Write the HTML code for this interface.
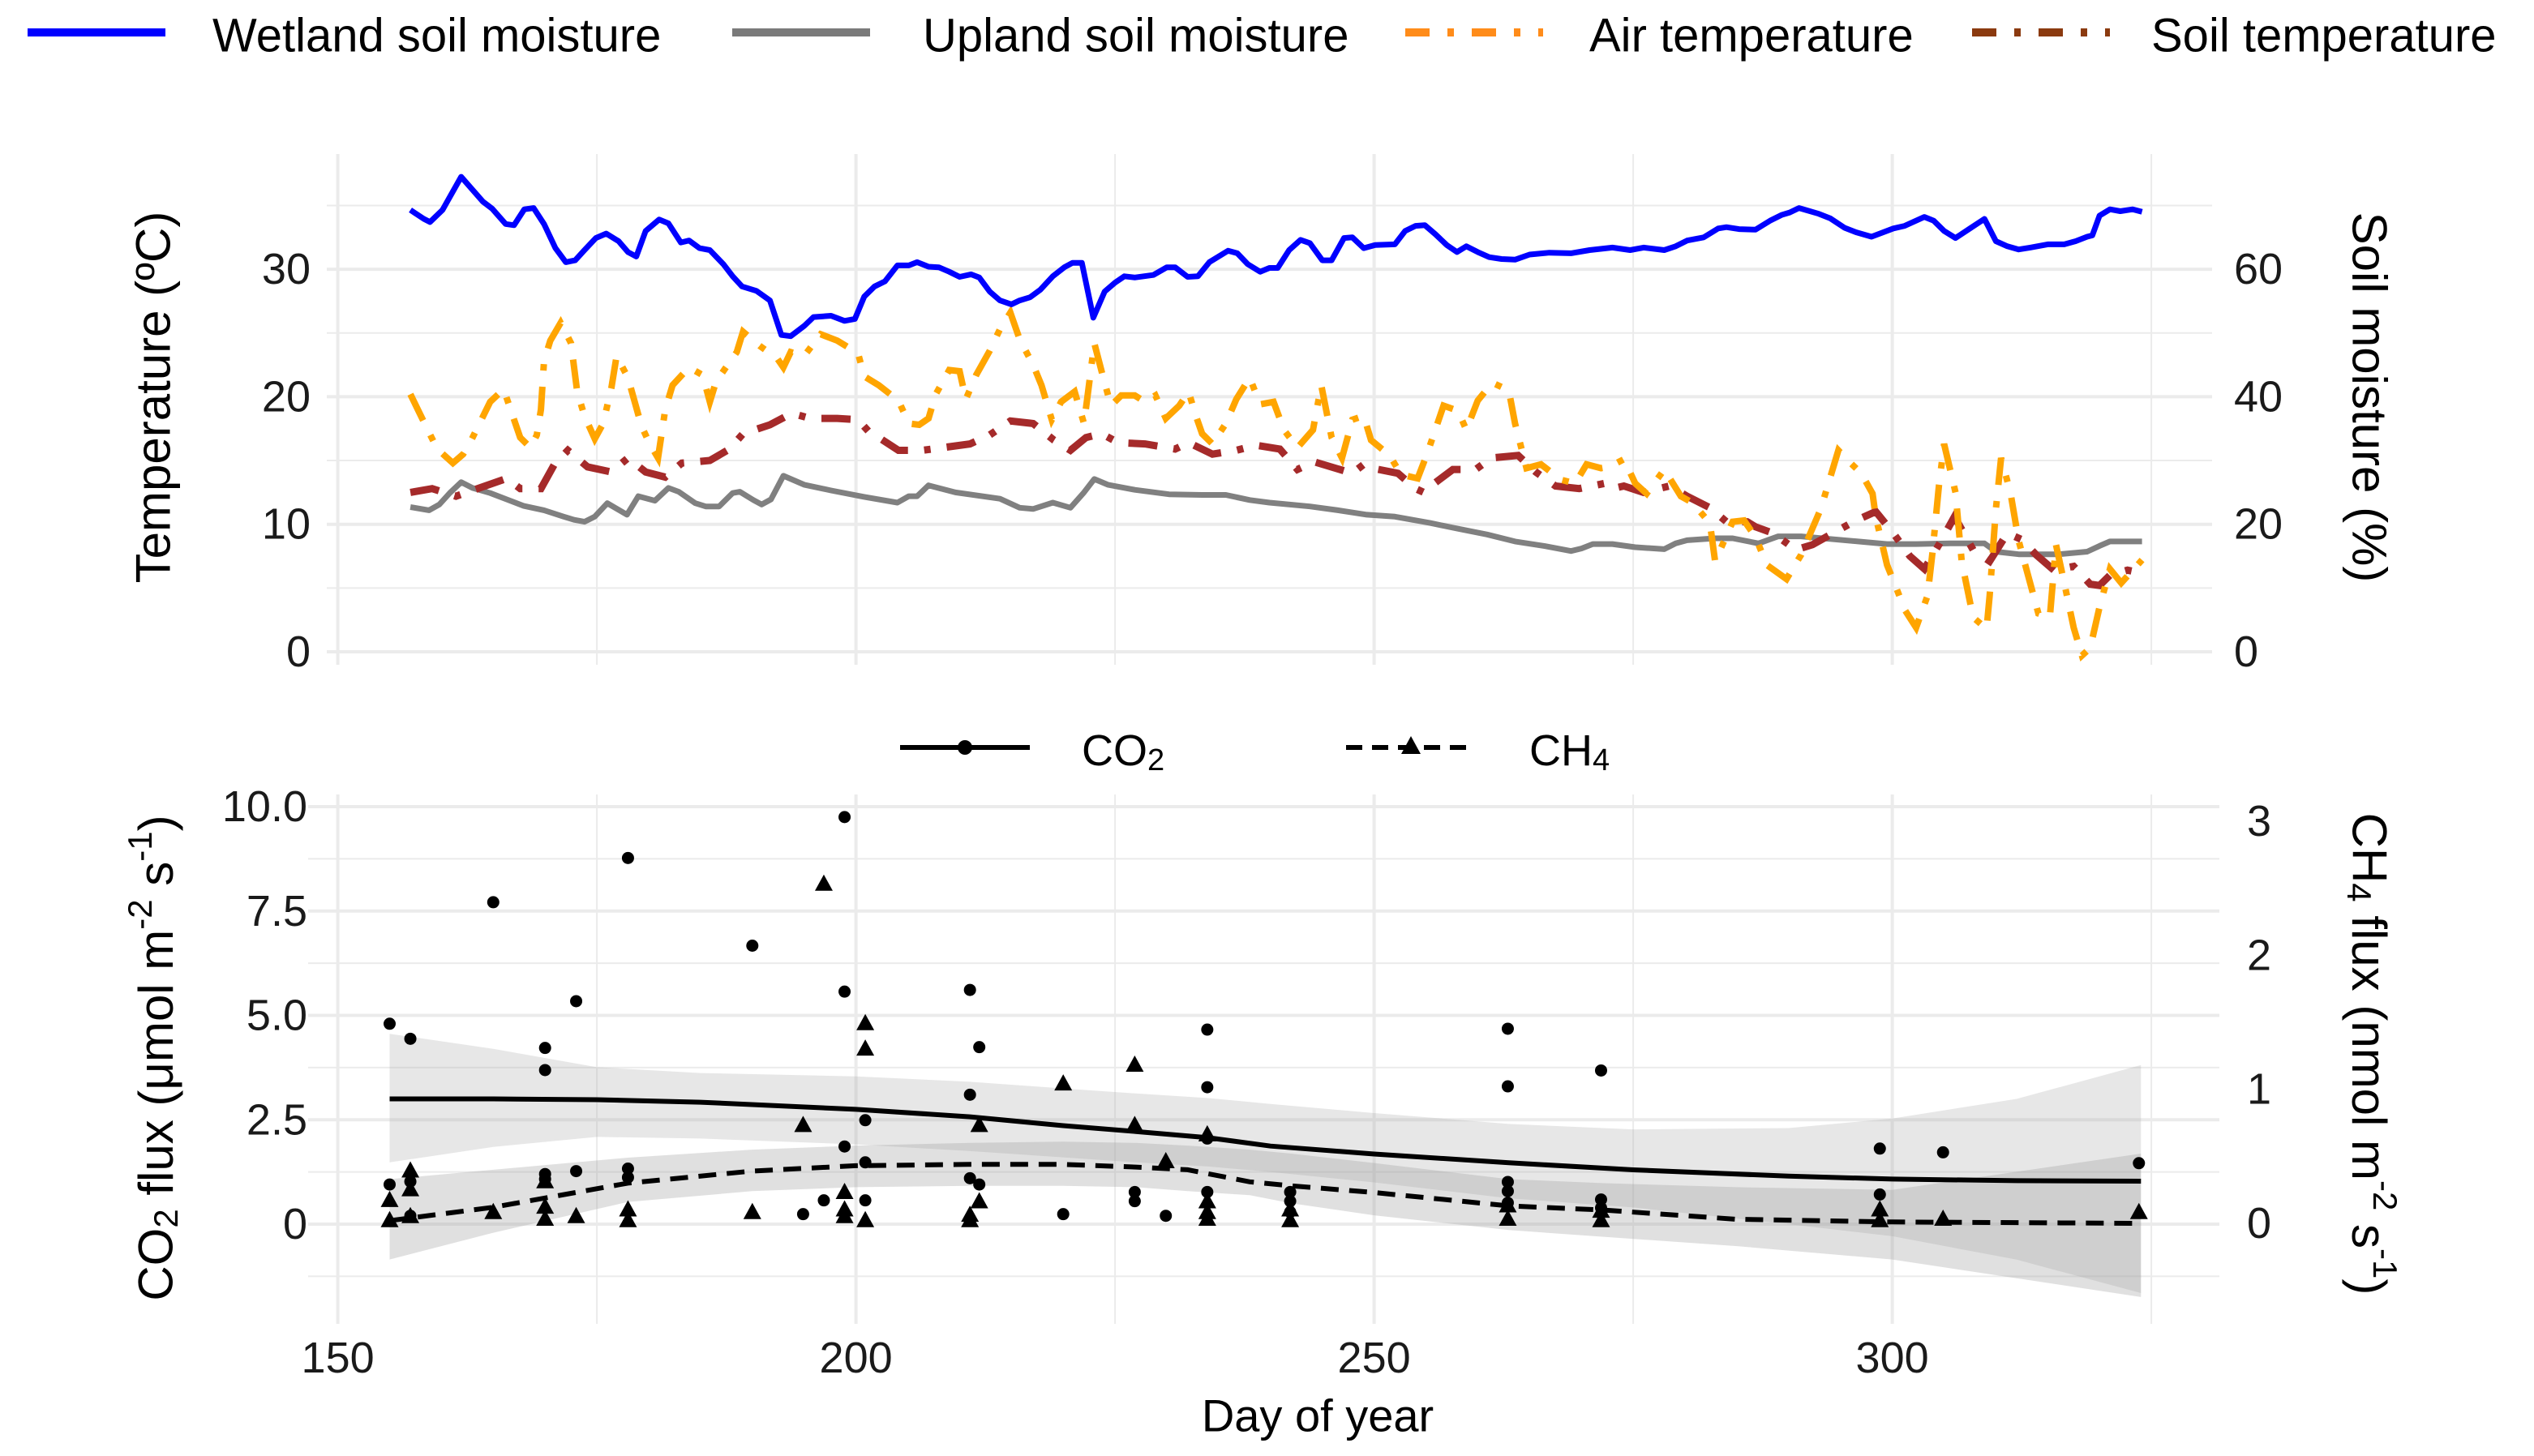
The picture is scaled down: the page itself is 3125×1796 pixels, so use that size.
<!DOCTYPE html>
<html><head><meta charset="utf-8">
<style>
html,body{margin:0;padding:0;background:#fff;}
svg{display:block;font-family:"Liberation Sans",Arial,sans-serif;}
</style></head>
<body>
<svg id="chart" width="3125" height="1796" viewBox="0 0 3125 1796" xmlns="http://www.w3.org/2000/svg">
  <g id="legend-top">
    <line x1="34" y1="40" x2="204" y2="40" stroke="#0000ff" stroke-width="10"/>
    <text x="262" y="44" font-size="58" dominant-baseline="central">Wetland soil moisture</text>
    <line x1="903" y1="40" x2="1073" y2="40" stroke="#7a7a7a" stroke-width="10"/>
    <text x="1138" y="44" font-size="58" dominant-baseline="central">Upland soil moisture</text>
    <line x1="1733" y1="40" x2="1903" y2="40" stroke="#ff8c1a" stroke-width="10" stroke-dasharray="30 22 8 22"/>
    <text x="1960" y="44" font-size="58" dominant-baseline="central">Air temperature</text>
    <line x1="2432" y1="40" x2="2602" y2="40" stroke="#8b3a0f" stroke-width="10" stroke-dasharray="30 22 8 22"/>
    <text x="2653" y="44" font-size="58" dominant-baseline="central">Soil temperature</text>
  </g>
  <g id="top-grid"></g>
  <g id="top-series"></g>
  <g id="top-axes"></g>
  <g id="bot-grid"></g>
  <g id="bot-series"></g>
  <g id="bot-axes"></g>
  <g id="legend-bottom">
    <line x1="1110" y1="922" x2="1270" y2="922" stroke="#000" stroke-width="6"/>
    <circle cx="1190" cy="922" r="9" fill="#000"/>
    <text x="1334" y="926" font-size="54" dominant-baseline="central">CO<tspan font-size="38" dy="12">2</tspan></text>
    <line x1="1660" y1="922" x2="1820" y2="922" stroke="#000" stroke-width="6" stroke-dasharray="20 12"/>
    <polygon points="1740,908 1752,930 1728,930" fill="#000"/>
    <text x="1886" y="926" font-size="54" dominant-baseline="central">CH<tspan font-size="38" dy="12">4</tspan></text>
  </g>
  <g id="titles">
    <text transform="translate(189,490) rotate(-90)" text-anchor="middle" dominant-baseline="central" font-size="60">Temperature (ºC)</text>
    <text transform="translate(2922,490) rotate(90)" text-anchor="middle" dominant-baseline="central" font-size="60">Soil moisture (%)</text>
    <text transform="translate(192,1305) rotate(-90)" text-anchor="middle" dominant-baseline="central" font-size="60">CO<tspan font-size="42" dy="12">2</tspan><tspan dy="-12"> flux (μmol m</tspan><tspan font-size="42" dy="-20">-2</tspan><tspan dy="20"> s</tspan><tspan font-size="42" dy="-20">-1</tspan><tspan dy="20">)</tspan></text>
    <text transform="translate(2922,1300) rotate(90)" text-anchor="middle" dominant-baseline="central" font-size="60">CH<tspan font-size="42" dy="12">4</tspan><tspan dy="-12"> flux (nmol m</tspan><tspan font-size="42" dy="-20">-2</tspan><tspan dy="20"> s</tspan><tspan font-size="42" dy="-20">-1</tspan><tspan dy="20">)</tspan></text>
    <text x="1625" y="1746" text-anchor="middle" dominant-baseline="central" font-size="56">Day of year</text>
  </g>
</svg>
<script>
// ---------- top panel data ----------
const wetDays = [157,158.3,158.9,160.1,161.9,164,164.9,166.2,167,168,168.9,169.9,171,172,172.9,173.8,174.9,175.9,177.1,178,178.8,179.7,181,181.9,183.1,183.9,184.9,185.9,187.2,188.1,189,190.4,191.7,192.8,193.7,195,195.9,197.6,198.9,199.9,200.8,201.8,202.8,204,205.1,205.9,207,208,209,210,211.1,211.9,212.9,213.9,215,215.8,216.8,217.8,219,220.1,220.9,221.8,222.9,224,225,225.9,226.9,228.7,230,230.8,232,233,234.1,235.9,236.8,237.8,239,239.9,240.7,241.8,242.9,243.8,245,245.9,
  247.1,247.9,249,250.1,252,253,254,254.9,255.9,257,258,258.9,260,261.1,262.3,263.6,265,266.9,269,270.8,273,274.7,276,278,279.1,280.2,281.8,283.2,284,285.2,286.8,288.2,289.3,290.1,291,292.9,294,295.4,296.5,298,300.1,301.2,303.1,304,305,306.1,307.5,308.9,310,311.1,312.2,313.3,315,316.6,317.7,318.8,319.3,320,321,322,323.2,324.1];
const wetMoist = [69.3,67.9,67.4,69.3,74.5,70.6,69.5,67.1,66.9,69.4,69.6,67.1,63.3,61.1,61.4,63,64.9,65.6,64.4,62.7,62,66,67.8,67.2,64.2,64.5,63.3,63,60.8,58.9,57.3,56.6,55.1,49.7,49.5,51.1,52.5,52.7,51.9,52.2,55.7,57.3,58.1,60.6,60.6,61.1,60.4,60.3,59.6,58.8,59.2,58.7,56.5,55.1,54.5,55.1,55.6,56.8,58.9,60.3,61,61,52.4,56.5,57.9,58.9,58.7,59.1,60.3,60.3,58.8,58.9,61.1,62.9,62.5,60.8,59.6,60.2,60.2,63,64.6,64.1,61.4,61.4,
  64.9,65,63.3,63.8,63.9,66,66.8,66.9,65.5,63.8,62.7,63.6,62.7,61.9,61.6,61.5,62.3,62.6,62.5,63,63.4,63,63.4,63,63.6,64.5,65,66.4,66.6,66.3,66.2,67.6,68.5,68.9,69.6,68.7,68,66.5,65.8,65.1,66.4,66.8,68.2,67.6,66,64.9,66.4,67.9,64.4,63.6,63.1,63.4,63.9,63.9,64.4,65.1,65.3,68.4,69.4,69.1,69.4,69];
const upDays = [157,158.8,159.8,160.8,161.9,163,164.7,166.3,167.9,169.9,171.8,172.8,173.8,174.8,176,177.9,179,180.6,181.9,182.9,184.5,185.5,186.8,188.1,188.8,190.1,190.9,191.8,193,195,197.6,200.8,204,205.1,205.9,207,209.6,213.9,215.8,217.1,219,220.7,222,223,224.3,226.9,230.2,233.4,235.7,238,239.9,243.8,246.5,
  249.3,252,255.4,258.1,260.9,263.6,266.4,269,270,271.1,273,275.2,278,279.1,280.2,282.9,284.6,287.1,289,291.2,294,296.7,299.5,302.3,305.6,308.9,310,312.2,316.1,318.8,320,321,324.1];
const upMoist = [22.7,22.2,23.1,24.9,26.6,25.7,24.9,23.9,22.9,22.2,21.2,20.7,20.4,21.2,23.3,21.5,24.4,23.7,25.7,25.1,23.3,22.8,22.8,24.9,25.1,23.8,23.1,23.9,27.6,26.2,25.3,24.3,23.4,24.4,24.4,26.1,25,24,22.6,22.4,23.4,22.6,25,27.1,26.2,25.4,24.7,24.6,24.6,23.8,23.4,22.8,22.2,
  21.5,21.2,20.2,19.3,18.4,17.3,16.6,15.8,16.2,16.9,16.9,16.4,16.1,17,17.5,17.8,17.8,17,18.1,18.1,17.7,17.3,16.9,16.9,17,17,15.7,15.3,15.3,15.7,16.6,17.3,17.3];
const airDays = [157,158.5,159.6,161.1,162.1,162.7,164.7,166,167.6,168.6,169.2,169.6,169.9,170.5,171.5,172.5,173.1,173.8,174.8,175.6,176.4,176.9,178,179.3,180.1,180.9,181.6,182.3,183.2,183.9,185.2,185.9,186.5,188.5,189.1,190.7,192.4,193,193.7,195,196.6,198.2,200.2,200.8,202.2,204.1,205.1,206.1,207,207.7,209,210,210.6,211.6,212.9,213.9,214.9,215.8,217.1,217.9,218.9,219.8,221.1,222,222.4,223,223.7,224.6,225.6,226.9,227.9,228.9,229.9,231.2,232.1,232.8,233.4,234.4,235.7,236.7,238,239,240.3,241.3,242.6,244.1,244.9,245.9,246.9,
  247.9,249,249.7,251.5,252.6,254.2,255.1,255.9,256.7,258.1,258.9,260,261.4,263,263.6,264.7,266.1,268,269.4,270.5,271.9,272.7,274.1,275.2,276.3,278,279.6,280.7,282.4,282.9,284.6,285.7,286.8,287.9,289.8,291.2,293.1,294.8,295.6,297,298.1,298.4,299.5,300.3,301.2,302.3,303.4,303.9,304.5,305,306.1,306.7,307.8,309.1,309.4,310,310.5,311.4,312.2,313.3,314.1,315.2,315.8,316.6,317.5,318.3,319.1,320,321,322.1,324.1];
const airTemp = [20.2,17.7,15.9,14.8,15.5,16.3,19.6,20.6,16.8,16,17,19,22.8,24.4,25.8,24.2,20.4,18.5,16.7,17.9,20.7,23.2,21.5,17.7,16.3,15.2,19,20.9,21.7,22.3,21.7,19.6,21.2,23.5,25.1,24,23,22.3,23.5,23.2,24.9,24.4,23.4,21.6,20.9,19.7,17.9,17.8,18.3,20.2,22.1,22,19.8,21.7,23.6,25.3,26.6,24.5,22.5,20.9,18.2,19.6,20.4,17.9,20.4,24.2,22,19.3,20.1,20.1,19.6,20.1,18.3,19.3,20.4,18.5,17.1,16.3,17.9,19.8,21.5,19.4,19.6,17.4,16,17.4,20.9,16.8,15.2,
  18.2,18.5,16.6,15.4,13.9,13.6,15.5,17.4,19.3,18.9,17.4,19.7,21.1,20.5,17.9,14.4,14.7,13.5,13.2,14.7,14.4,14.5,15.1,13.2,12.4,14.3,12.2,11.7,10.1,7.1,10.2,10.3,9,6.8,5.7,7.6,11.2,15.8,15.1,14,12.4,10.6,6.8,5.2,3.3,1.9,4.4,7.9,13,16.3,12.5,7.1,2.7,1.8,4.4,11.2,15.2,12.5,8.7,5.4,3,2.7,8.4,5.4,1.9,-0.3,0.3,3.5,6.5,5.4,7.2];
const soilDays = [157,159.1,161.4,166.3,167.6,169.6,170.9,172.2,174.1,176.4,178,179.7,181.6,183.2,185.9,187.8,189.1,191.7,193.8,195.6,198.2,200.2,201.2,202.2,204.1,206.4,208.3,211,212.9,214.9,217.1,219.1,220.7,222.2,223.7,225.3,227.9,230.8,232.1,234.4,236.7,238.6,240.9,242.6,244.2,
  247.9,249,249.8,252.3,254,254.8,255.8,257.6,259.8,261.3,263.9,265.6,267.5,269.8,272.2,273,274.1,276,278.5,280.2,282.4,284,286,286.8,288.5,290.7,292.3,294.5,296.5,298.4,300.1,301.7,303.1,304.5,306,307.8,309.4,311.1,312.5,313.9,315.6,317.5,319.1,320,321,322.7,323.3];
const soilTemp = [12.5,12.8,12.2,13.6,12.8,12.8,14.7,15.8,14.5,14.1,15.2,14.1,13.7,14.8,15,15.9,17.1,17.8,18.7,18.3,18.3,18.2,17.3,16.8,15.8,15.8,16,16.3,17,18.1,17.9,16.6,15.8,16.8,17.1,16.4,16.3,15.9,16.4,15.5,15.8,16.2,15.9,14.3,14.9,
  14,14.7,14.4,14,12.8,12.5,13.2,14.3,14.3,15.2,15.4,14.1,13,12.8,13.2,12.8,13,12.5,13,12.2,11.3,10.2,10.2,9.8,9.3,8,8.4,9.4,10.3,11,9.3,7.5,6.5,8.4,10.6,8,7.1,9.3,8.8,7.6,6.4,6.7,5.3,5.2,6,6.4,6.3];
const xTicks = [150,200,250,300];
const xMinor = [175,225,275,325];
const tempTicks = [0,10,20,30];
const tempMinor = [5,15,25,35];
const moistTickLabels = ["0","20","40","60"];

// ---------- bottom panel data ----------
const co2Day = [155,155,157,157,157,165,170,170,170,170,173,173,178,178,178,190,194.9,196.9,198.9,198.9,198.9,200.9,200.9,200.9,211,211,211,211.9,211.9,220,226.9,226.9,229.9,233.9,233.9,233.9,233.9,241.9,241.9,241.9,262.9,262.9,262.9,262.9,262.9,271.9,271.9,271.9,298.8,298.8,304.9,323.8];
const co2Val = [4.80,0.95,4.44,1.02,0.20,7.71,4.22,3.69,1.08,1.20,5.34,1.27,8.77,1.33,1.12,6.67,0.24,0.57,9.75,5.57,1.86,2.49,1.48,0.57,5.61,3.10,1.10,4.24,0.95,0.24,0.77,0.55,0.20,4.66,3.28,2.05,0.77,0.77,0.55,0.29,4.68,3.30,1.01,0.79,0.51,3.68,0.59,0.39,1.81,0.71,1.72,1.46];
const ch4Day = [155,155,157,157,157,165,170,170,170,173,178,178,190,194.9,196.9,198.9,198.9,198.9,200.9,200.9,200.9,211,211,211.9,211.9,220,226.9,226.9,229.9,233.9,233.9,233.9,233.9,241.9,241.9,262.9,262.9,271.9,271.9,298.8,298.8,304.9,323.8];
const ch4Val = [0.17,0.02,0.39,0.25,0.05,0.08,0.31,0.12,0.03,0.05,0.10,0.02,0.08,0.73,2.53,0.23,0.10,0.05,1.49,1.30,0.02,0.06,0.02,0.73,0.16,1.04,1.18,0.73,0.46,0.66,0.16,0.08,0.03,0.10,0.02,0.13,0.03,0.09,0.02,0.10,0.02,0.03,0.08];
const co2FitDay = [155,165,175,185,200,211,220,227,234,240,250,263,275,290,300,312,324];
const co2Fit = [3.0,3.0,2.98,2.92,2.75,2.57,2.36,2.22,2.07,1.87,1.68,1.47,1.30,1.15,1.08,1.04,1.03];
const co2Upper = [4.56,4.2,3.76,3.62,3.54,3.41,3.25,3.13,3.02,2.88,2.66,2.40,2.27,2.3,2.53,3.0,3.81];
const co2Lower = [1.48,1.85,2.09,2.05,1.91,1.75,1.6,1.48,1.38,1.25,1.0,0.62,0.4,0.0,-0.29,-0.85,-1.65];
const ch4FitDay = [155,165,178,190,200,211,220,227,232,238,242,250,263,272,285,300,324];
const ch4Fit = [0.02,0.12,0.30,0.39,0.43,0.44,0.44,0.42,0.40,0.31,0.28,0.23,0.13,0.10,0.03,0.01,0.0];
const ch4Upper = [0.33,0.40,0.49,0.55,0.58,0.60,0.61,0.60,0.58,0.55,0.52,0.45,0.33,0.30,0.27,0.25,0.52];
const ch4Lower = [-0.27,-0.07,0.16,0.24,0.27,0.28,0.28,0.27,0.24,0.21,0.15,0.06,-0.05,-0.1,-0.17,-0.27,-0.55];
const co2Ticks = [0,2.5,5,7.5,10];
const co2TickLabels = ["0","2.5","5.0","7.5","10.0"];
const co2Minor = [-1.25,1.25,3.75,6.25,8.75];
const ch4Ticks = [0,1,2,3];

// ---------- scales ----------
const NS = "http://www.w3.org/2000/svg";
function xS(d){ return 416.6 + (d - 150) * 12.78; }
function yTemp(t){ return 804 - t * 15.73; }
function yMoist(m){ return 804 - m * 7.865; }
function yCO2(c){ return 1510 - c * 51.5; }
function yCH4(v){ return 1509 - v * 165.3; }
function mk(tag, parent, attrs){
  const e = document.createElementNS(NS, tag);
  for (const k in attrs) e.setAttribute(k, attrs[k]);
  parent.appendChild(e);
  return e;
}
function pts(xs, ys, fy){
  const n = Math.min(xs.length, ys.length);
  let s = [];
  for (let i = 0; i < n; i++) s.push(xS(xs[i]).toFixed(1) + "," + fy(ys[i]).toFixed(1));
  return s.join(" ");
}
const GRID = "#ebebeb";
const TXT = "#1a1a1a";

// ---------- top grid ----------
const tg = document.getElementById("top-grid");
tempMinor.forEach(t => {
  const l = mk("line", tg, {x1:403, x2:2728, y1:yTemp(t), y2:yTemp(t), stroke:GRID, "stroke-width":2});
  
  
});
tempTicks.forEach(t => {
  const l = mk("line", tg, {x1:403, x2:2728, y1:yTemp(t), y2:yTemp(t), stroke:GRID, "stroke-width":4});
  
  
});
xMinor.forEach(d => {
  const l = mk("line", tg, {x1:xS(d), x2:xS(d), y1:190, y2:820, stroke:GRID, "stroke-width":2});
  
  
});
xTicks.forEach(d => {
  const l = mk("line", tg, {x1:xS(d), x2:xS(d), y1:190, y2:820, stroke:GRID, "stroke-width":4});
  
  
});

// ---------- top series ----------
const ts = document.getElementById("top-series");
let p;
p = mk("polyline", ts, {points:pts(upDays, upMoist, yMoist), fill:"none", stroke:"#808080", "stroke-width":7, "stroke-linejoin":"round"});


p = mk("polyline", ts, {points:pts(soilDays, soilTemp, yTemp), fill:"none", stroke:"#a52a2a", "stroke-width":9, "stroke-dasharray":"36 20 8 20"});


p = mk("polyline", ts, {points:pts(airDays, airTemp, yTemp), fill:"none", stroke:"#ffa500", "stroke-width":8, "stroke-dasharray":"36 20 8 20"});


p = mk("polyline", ts, {points:pts(wetDays, wetMoist, yMoist), fill:"none", stroke:"#0000ff", "stroke-width":7, "stroke-linejoin":"round"});



// ---------- top axes labels ----------
const ta = document.getElementById("top-axes");
tempTicks.forEach(t => {
  const e = mk("text", ta, {x:383, y:yTemp(t), "text-anchor":"end", "dominant-baseline":"central", "font-size":54, fill:TXT});
  e.textContent = String(t);
  
  
});
tempTicks.forEach((t, i) => {
  const e = mk("text", ta, {x:2755, y:yTemp(t), "text-anchor":"start", "dominant-baseline":"central", "font-size":54, fill:TXT});
  e.textContent = moistTickLabels[i];
  
  
});

// ---------- bottom grid ----------
const bg = document.getElementById("bot-grid");
co2Minor.forEach(c => {
  const l = mk("line", bg, {x1:380, x2:2737, y1:yCO2(c), y2:yCO2(c), stroke:GRID, "stroke-width":2});
  
  
});
co2Ticks.forEach(c => {
  const l = mk("line", bg, {x1:380, x2:2737, y1:yCO2(c), y2:yCO2(c), stroke:GRID, "stroke-width":4});
  
  
});
xMinor.forEach(d => {
  const l = mk("line", bg, {x1:xS(d), x2:xS(d), y1:980, y2:1633, stroke:GRID, "stroke-width":2});
  
  
});
xTicks.forEach(d => {
  const l = mk("line", bg, {x1:xS(d), x2:xS(d), y1:980, y2:1633, stroke:GRID, "stroke-width":4});
  
  
});

// ---------- bottom series ----------
const bs = document.getElementById("bot-series");
function ribbon(days, up, lo, fy){
  let a = [], b = [];
  for (let i = 0; i < days.length; i++){
    a.push(xS(days[i]).toFixed(1) + "," + fy(up[i]).toFixed(1));
    b.unshift(xS(days[i]).toFixed(1) + "," + fy(lo[i]).toFixed(1));
  }
  return a.concat(b).join(" ");
}
p = mk("polygon", bs, {points:ribbon(co2FitDay, co2Upper, co2Lower, yCO2), fill:"#999999", "fill-opacity":0.24});


p = mk("polygon", bs, {points:ribbon(ch4FitDay, ch4Upper, ch4Lower, yCH4), fill:"#999999", "fill-opacity":0.3});


p = mk("polyline", bs, {points:pts(co2FitDay, co2Fit, yCO2), fill:"none", stroke:"#000", "stroke-width":6});


p = mk("polyline", bs, {points:pts(ch4FitDay, ch4Fit, yCH4), fill:"none", stroke:"#000", "stroke-width":6, "stroke-dasharray":"22 13"});


for (let i = 0; i < co2Day.length; i++){
  const c = mk("circle", bs, {cx:xS(co2Day[i]), cy:yCO2(co2Val[i]), r:7.5, fill:"#000"});
  
  
}
for (let i = 0; i < ch4Day.length; i++){
  const x = xS(ch4Day[i]), y = yCH4(ch4Val[i]);
  const t = mk("polygon", bs, {points:(x)+","+(y-12)+" "+(x+11)+","+(y+8)+" "+(x-11)+","+(y+8), fill:"#000"});
  
  
}

// ---------- bottom axes labels ----------
const ba = document.getElementById("bot-axes");
co2Ticks.forEach((c, i) => {
  const e = mk("text", ba, {x:379, y:yCO2(c), "text-anchor":"end", "dominant-baseline":"central", "font-size":54, fill:TXT});
  e.textContent = co2TickLabels[i];
  
  
});
ch4Ticks.forEach(v => {
  const e = mk("text", ba, {x:2771, y:yCH4(v), "text-anchor":"start", "dominant-baseline":"central", "font-size":54, fill:TXT});
  e.textContent = String(v);
  
  
});
xTicks.forEach(d => {
  const e = mk("text", ba, {x:xS(d), y:1675, "text-anchor":"middle", "dominant-baseline":"central", "font-size":54, fill:TXT});
  e.textContent = String(d);
  
  
});
</script>
</body></html>
